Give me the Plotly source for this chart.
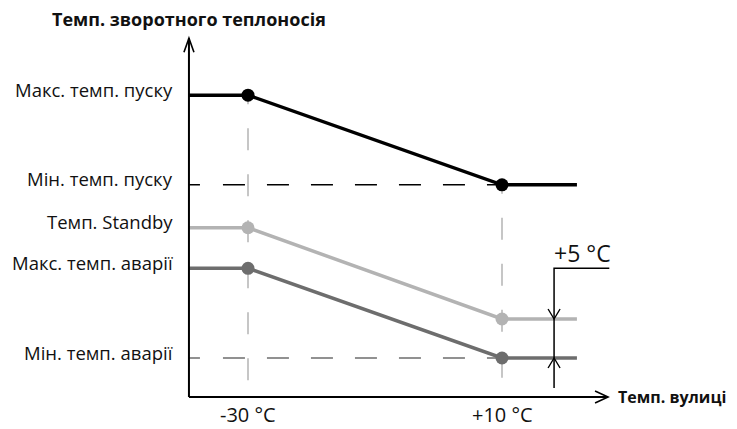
import plotly.graph_objects as go

# ---------------- data (schematic values) ----------------
outdoor_breaks = [-30, 10]                 # outdoor temperature break points, °C
outdoor_labels = ["-30 °C", "+10 °C"]
axis_x_min = -39.3                         # position of the vertical axis
line_x_end = 21.8                          # where the curves stop
axis_x_end = 26.7                          # tip of the horizontal axis arrow
axis_y_end = 46.0                          # tip of the vertical axis arrow

max_flow_curve = [38.7, 38.7, 27.2, 27.2]  # black curve
standby_curve = [21.7, 21.7, 10.0, 10.0]   # light grey curve
alarm_curve = [16.5, 16.5, 5.0, 5.0]       # dark grey curve

min_flow_level = 27.2
min_alarm_level = 5.0

level_labels = ["Макс. темп. пуску", "Мін. темп. пуску", "Темп. Standby",
                "Макс. темп. аварії", "Мін. темп. аварії"]
level_values = [38.7, 27.2, 21.7, 16.5, 5.0]

bracket_x = 18.2
bracket_top = 16.5
bracket_bottom = 1.15
bracket_right = 26.9
offset_label = "+5 °C"

y_title = "Темп. зворотного теплоносія"
x_title = "Темп. вулиці"

# ---------------- layout geometry ----------------
W, H = 737, 429
PAGE_OFF = 8                    # default page margin of the browser
X_PX0, X_SCALE = 248 - PAGE_OFF, 6.35   # pixel of -30 °C, px per °C
Y_PX0, Y_SCALE = 397 - PAGE_OFF, 7.8    # pixel of y=0, px per unit
x_range = [-30 - X_PX0 / X_SCALE, -30 + (W - X_PX0) / X_SCALE]
y_range = [-(H - Y_PX0) / Y_SCALE, Y_PX0 / Y_SCALE]

def dx(px):
    return px / X_SCALE

def dy(px):
    return px / Y_SCALE

BLACK = "#000000"
LIGHT = "#b3b3b3"
DARK = "#6d6d6d"
VDASH = "#b8b8b8"

xs = [axis_x_min, outdoor_breaks[0], outdoor_breaks[1], line_x_end]

fig = go.Figure()

# vertical guide lines (dashed, light grey)
vtops = [max_flow_curve[1], max_flow_curve[2]]
for xb, yt in zip(outdoor_breaks, vtops):
    fig.add_trace(go.Scatter(x=[xb, xb], y=[yt, 0], mode="lines",
                             line=dict(color=VDASH, width=1.6,
                                       dash="9px,24px" + ",22px,24px" * 10),
                             hoverinfo="skip", showlegend=False))

# horizontal dashed level lines
hdash = "11px,23px" + ",22px,22px" * 10
fig.add_trace(go.Scatter(x=[axis_x_min, outdoor_breaks[1]], y=[min_flow_level] * 2,
                         mode="lines", line=dict(color=BLACK, width=1.5, dash=hdash),
                         hoverinfo="skip", showlegend=False))
fig.add_trace(go.Scatter(x=[axis_x_min, outdoor_breaks[1]], y=[min_alarm_level] * 2,
                         mode="lines", line=dict(color=DARK, width=1.5, dash=hdash),
                         hoverinfo="skip", showlegend=False))

# curves
for ys, col in [(max_flow_curve, BLACK), (standby_curve, LIGHT), (alarm_curve, DARK)]:
    fig.add_trace(go.Scatter(x=xs, y=ys, mode="lines",
                             line=dict(color=col, width=3.5),
                             hoverinfo="skip", showlegend=False))
    fig.add_trace(go.Scatter(x=xs[1:3], y=ys[1:3], mode="markers",
                             marker=dict(color=col, size=13),
                             hoverinfo="skip", showlegend=False))

# bracket lines
fig.add_trace(go.Scatter(x=[bracket_right, bracket_x, bracket_x],
                         y=[bracket_top, bracket_top, bracket_bottom],
                         mode="lines", line=dict(color=BLACK, width=1.5),
                         hoverinfo="skip", showlegend=False))

shapes = []
# axes
shapes.append(dict(type="line", xref="x", yref="y", x0=axis_x_min, x1=axis_x_min,
                   y0=0, y1=axis_y_end, line=dict(color=BLACK, width=2)))
shapes.append(dict(type="line", xref="x", yref="y", x0=axis_x_min, x1=axis_x_end,
                   y0=0, y1=0, line=dict(color=BLACK, width=2)))

def chevron(tx, ty, direction, length, half, width):
    if direction == "right":
        p1 = (tx - dx(length), ty + dy(half))
        p2 = (tx - dx(length), ty - dy(half))
    elif direction == "up":
        p1 = (tx - dx(half), ty - dy(length))
        p2 = (tx + dx(half), ty - dy(length))
    else:  # down
        p1 = (tx - dx(half), ty + dy(length))
        p2 = (tx + dx(half), ty + dy(length))
    path = f"M{p1[0]},{p1[1]} L{tx},{ty} L{p2[0]},{p2[1]}"
    return dict(type="path", xref="x", yref="y", path=path,
                line=dict(color=BLACK, width=width))

shapes.append(chevron(axis_x_end, 0, "right", 13, 6, 1.6))
shapes.append(chevron(axis_x_min, axis_y_end, "up", 14, 5, 1.6))
shapes.append(chevron(bracket_x, standby_curve[-1], "down", 10, 6, 1.4))
shapes.append(chevron(bracket_x, alarm_curve[-1], "up", 10, 6, 1.4))

# ---------------- text ----------------
FONT = "Open Sans"
TXT = "#111111"
ann = []
for lab, val in zip(level_labels, level_values):
    ann.append(dict(x=axis_x_min, y=val, xref="x", yref="y", text=lab,
                    showarrow=False, xanchor="right", yanchor="middle",
                    xshift=-14, yshift=6,
                    font=dict(family=FONT, size=18.5, color=TXT)))
for xb, lab in zip(outdoor_breaks, outdoor_labels):
    ann.append(dict(x=xb, y=0, xref="x", yref="y", text=lab, showarrow=False,
                    xanchor="center", yanchor="middle", yshift=-17,
                    font=dict(family=FONT, size=20, color=TXT)))
ann.append(dict(x=axis_x_min, y=axis_y_end, xref="x", yref="y",
                text="<b>" + y_title + "</b>", showarrow=False,
                xanchor="center", yanchor="middle", yshift=19,
                font=dict(family=FONT, size=18, color=TXT)))
ann.append(dict(x=axis_x_end, y=0, xref="x", yref="y",
                text="<b>" + x_title + "</b>", showarrow=False,
                xanchor="left", yanchor="middle", xshift=8,
                font=dict(family=FONT, size=16, color=TXT)))
ann.append(dict(x=bracket_x, y=bracket_top, xref="x", yref="y",
                text=offset_label, showarrow=False,
                xanchor="left", yanchor="middle", xshift=-2, yshift=15,
                font=dict(family=FONT, size=23, color=TXT)))

fig.update_layout(
    width=W, height=H,
    margin=dict(l=0, r=0, t=0, b=0),
    paper_bgcolor="white", plot_bgcolor="white",
    xaxis=dict(range=x_range, visible=False, fixedrange=True),
    yaxis=dict(range=y_range, visible=False, fixedrange=True),
    shapes=shapes, annotations=ann, showlegend=False,
)

fig.write_html("out.html")
